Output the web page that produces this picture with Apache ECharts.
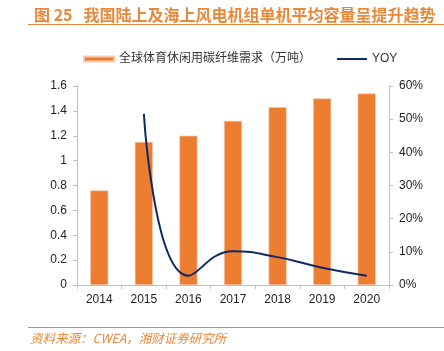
<!DOCTYPE html>
<html>
<head>
<meta charset="utf-8">
<script src="https://cdn.jsdelivr.net/npm/echarts@6/dist/echarts.min.js"></script>
<style>
  html, body { margin: 0; padding: 0; background: #fff; }
  #main { width: 444px; height: 351px; }
</style>
</head>
<body>
<div id="main"></div>
<script>
// 全球体育休闲用碳纤维需求与同比
var years = ['2014', '2015', '2016', '2017', '2018', '2019', '2020'];
var demand = [0.76, 1.15, 1.2, 1.32, 1.43, 1.5, 1.54];
var yoy = [null, 51.6, 2.8, 10.2, 8.4, 5.2, 2.8];
var leftTicks = [0, 1.6, 0.2];
var rightTicks = [0, 60, 10];

(function() {
  var chartDom = document.getElementById('main');
  var myChart = echarts.init(chartDom);
  var option;

  var orange = '#E8883A';
  var navy = '#0E2A66';
  var font = '"Liberation Sans", "Noto Sans CJK SC", sans-serif';

  option = {
    animation: false,
    title: {
      text: '图 25   我国陆上及海上风电机组单机平均容量呈提升趋势',
      left: 29,
      top: 2,
      textStyle: {
        color: orange,
        fontSize: 16,
        fontWeight: 'bold',
        fontFamily: '"Noto Sans CJK SC", sans-serif'
      }
    },
    graphic: [
      { type: 'line', shape: { x1: 28, y1: 24.5, x2: 444, y2: 24.5 }, style: { stroke: orange, lineWidth: 1 } },
      { type: 'line', shape: { x1: 28, y1: 327.5, x2: 444, y2: 327.5 }, style: { stroke: orange, lineWidth: 1 } },
      {
        type: 'text', left: 30, top: 332,
        style: {
          text: '资料来源：CWEA，湘财证券研究所',
          fill: orange,
          font: 'italic 12.5px "Noto Sans CJK SC", sans-serif'
        }
      }
    ],
    legend: {
      top: 48,
      left: 78,
      itemGap: 26,
      itemWidth: 30,
      itemHeight: 5,
      textStyle: { color: '#333', fontSize: 12, fontFamily: font },
      data: [
        { name: '全球体育休闲用碳纤维需求（万吨）', icon: 'rect' },
        { name: 'YOY', icon: 'path://M0,0 L30,0 L30,2 L0,2 Z', itemStyle: { color: navy } }
      ]
    },
    grid: {
      left: 77,
      right: 55,
      top: 86,
      bottom: 66
    },
    xAxis: {
      type: 'category',
      data: years,
      axisLine: { lineStyle: { color: '#bfbfbf' } },
      axisTick: { show: true, alignWithLabel: false, length: 4, lineStyle: { color: '#bfbfbf' } },
      axisLabel: { color: '#222', fontSize: 12, margin: 9, fontFamily: font }
    },
    yAxis: [
      {
        type: 'value',
        min: leftTicks[0],
        max: leftTicks[1],
        interval: leftTicks[2],
        splitLine: { show: false },
        axisLine: { show: true, lineStyle: { color: '#bfbfbf' } },
        axisTick: { show: true, length: 4, lineStyle: { color: '#bfbfbf' } },
        axisLabel: { color: '#222', fontSize: 12, margin: 10, fontFamily: font }
      },
      {
        type: 'value',
        min: rightTicks[0],
        max: rightTicks[1],
        interval: rightTicks[2],
        splitLine: { show: false },
        axisLine: { show: true, lineStyle: { color: '#bfbfbf' } },
        axisTick: { show: true, length: 4, lineStyle: { color: '#bfbfbf' } },
        axisLabel: { color: '#222', fontSize: 12, margin: 10, formatter: '{value}%', fontFamily: font }
      }
    ],
    series: [
      {
        name: '全球体育休闲用碳纤维需求（万吨）',
        type: 'bar',
        barWidth: 18,
        itemStyle: {
          color: '#ED7D31',
          borderColor: '#F8CBAD',
          borderWidth: 0.6
        },
        data: demand
      },
      {
        name: 'YOY',
        type: 'line',
        yAxisIndex: 1,
        smooth: 0.5,
        symbol: 'none',
        lineStyle: { color: navy, width: 2 },
        itemStyle: { color: navy },
        data: yoy
      }
    ]
  };

  option && myChart.setOption(option);
  window.addEventListener("resize", function() {
    myChart.resize();
  });
})();
</script>
</body>
</html>
